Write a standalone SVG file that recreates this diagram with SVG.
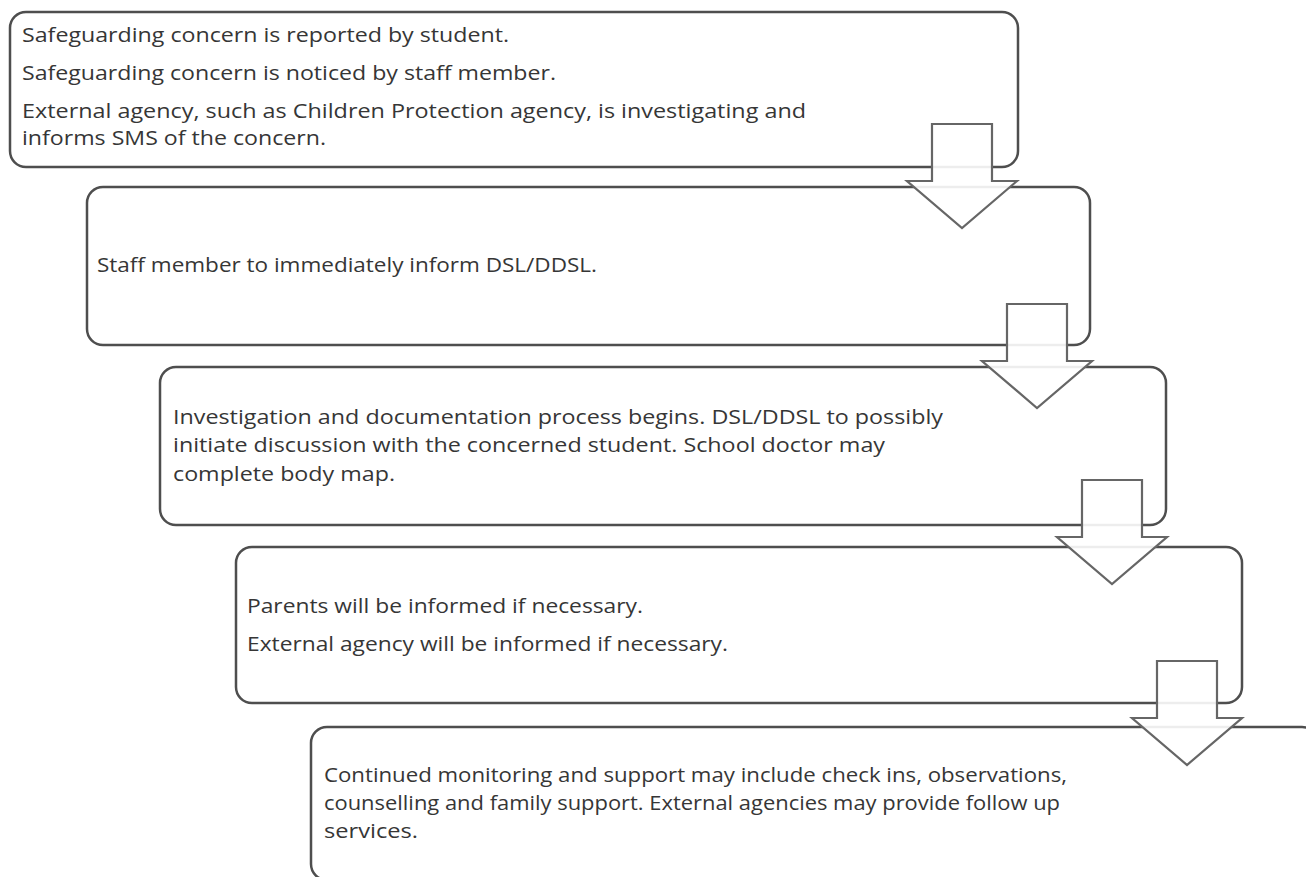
<svg xmlns="http://www.w3.org/2000/svg" xmlns:xlink="http://www.w3.org/1999/xlink" width="1306" height="877" viewBox="0 0 1306 877">
<style>
.box{fill:#ffffff;stroke:#4e4e4e;stroke-width:2.5}
.t{font-family:"Open Sans","Noto Sans","Liberation Sans",sans-serif;font-size:20px;fill:#363636}
.arr{fill:#ffffff;fill-opacity:0.9;stroke:#666666;stroke-width:2.2;stroke-linejoin:miter}
</style>
<defs>
<path id="downArrow" class="arr" d="M-30,0 H30 V57 H55 L0,104 L-55,57 H-30 Z"/>
</defs>
<rect width="1306" height="877" fill="#ffffff"/>
<g id="node1">
<rect class="box" x="10" y="12" width="1008" height="155" rx="16"/>
<text class="t" x="22" y="42" textLength="487" lengthAdjust="spacingAndGlyphs">Safeguarding concern is reported by student.</text>
<text class="t" x="22" y="80" textLength="534" lengthAdjust="spacingAndGlyphs">Safeguarding concern is noticed by staff member.</text>
<text class="t" x="22" y="118" textLength="784" lengthAdjust="spacingAndGlyphs">External agency, such as Children Protection agency, is investigating and</text>
<text class="t" x="22" y="145" textLength="304" lengthAdjust="spacingAndGlyphs">informs SMS of the concern.</text>
</g>
<g id="node2">
<rect class="box" x="87" y="187" width="1003" height="158" rx="16"/>
<text class="t" x="97" y="272" textLength="500" lengthAdjust="spacingAndGlyphs">Staff member to immediately inform DSL/DDSL.</text>
</g>
<g id="node3">
<rect class="box" x="160" y="367" width="1006" height="158" rx="16"/>
<text class="t" x="173" y="424" textLength="770" lengthAdjust="spacingAndGlyphs">Investigation and documentation process begins. DSL/DDSL to possibly</text>
<text class="t" x="173" y="452" textLength="712" lengthAdjust="spacingAndGlyphs">initiate discussion with the concerned student. School doctor may</text>
<text class="t" x="173" y="481" textLength="222" lengthAdjust="spacingAndGlyphs">complete body map.</text>
</g>
<g id="node4">
<rect class="box" x="236" y="547" width="1006" height="156" rx="16"/>
<text class="t" x="247" y="613" textLength="396" lengthAdjust="spacingAndGlyphs">Parents will be informed if necessary.</text>
<text class="t" x="247" y="651" textLength="481" lengthAdjust="spacingAndGlyphs">External agency will be informed if necessary.</text>
</g>
<g id="node5">
<rect class="box" x="311" y="727" width="1007" height="153" rx="16"/>
<text class="t" x="324" y="782" textLength="743" lengthAdjust="spacingAndGlyphs">Continued monitoring and support may include check ins, observations,</text>
<text class="t" x="324" y="810" textLength="736" lengthAdjust="spacingAndGlyphs">counselling and family support. External agencies may provide follow up</text>
<text class="t" x="324" y="838" textLength="94" lengthAdjust="spacingAndGlyphs">services.</text>
</g>
<g id="connectors">
<use xlink:href="#downArrow" href="#downArrow" x="962" y="124"/>
<use xlink:href="#downArrow" href="#downArrow" x="1037" y="304"/>
<use xlink:href="#downArrow" href="#downArrow" x="1112" y="480"/>
<use xlink:href="#downArrow" href="#downArrow" x="1187" y="661"/>
</g>
</svg>
